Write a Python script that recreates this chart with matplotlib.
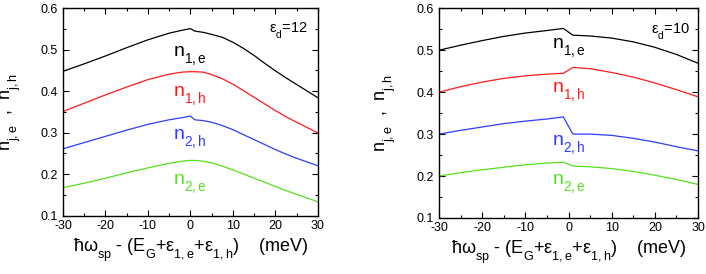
import matplotlib
matplotlib.use("Agg")
import matplotlib.pyplot as plt
from matplotlib.ticker import MultipleLocator

plt.rcParams['font.family'] = ['Liberation Sans', 'DejaVu Sans']
plt.rcParams['mathtext.fontset'] = 'custom'
plt.rcParams['mathtext.rm'] = 'Liberation Sans'
plt.rcParams['mathtext.it'] = 'Liberation Sans'
plt.rcParams['mathtext.bf'] = 'Liberation Sans:bold'
plt.rcParams['axes.unicode_minus'] = False

# subscripts in the original sit lower than mathtext puts them
try:
    import matplotlib._mathtext as mt

    class LowSubs(mt.FontConstantsBase):
        sub1 = 0.75
        subdrop = 0.6

    mt._font_constant_mapping['Liberation Sans'] = LowSubs
except Exception:
    pass

# eps_d = 12 (left panel)
x12 = [-30, -25, -20, -15, -10, -5, -2, 0, 1, 3, 5, 7.5, 10, 12.5, 15, 17.5, 20, 22.5, 25, 27.5, 30]
n1e_12 = [.448, .466, .485, .505, .524, .540, .547, .551, .545, .542, .537, .530, .518, .503, .486, .467, .449, .432, .416, .400, .384]
n1h_12 = [.351, .371, .391, .410, .428, .441, .446, .447, .447, .446, .440, .430, .417, .401, .385, .369, .353, .338, .325, .312, .299]
n2h_12 = [.261, .276, .291, .306, .320, .331, .336, .340, .331, .329, .325, .317, .307, .295, .283, .271, .259, .248, .238, .229, .220]
n2e_12 = [.167, .178, .190, .203, .215, .226, .231, .233, .233, .231, .227, .219, .210, .200, .190, .180, .170, .160, .151, .142, .133]

# eps_d = 10 (right panel)
x10 = [-30, -25, -20, -15, -10, -5, -1.2, 1, 5, 10, 15, 20, 25, 30]
n1e_10 = [.500, .512, .523, .533, .541, .547, .552, .536, .534, .529, .520, .507, .490, .469]
n1h_10 = [.400, .413, .424, .433, .439, .443, .445, .459, .456, .447, .436, .422, .406, .389]
n2h_10 = [.300, .309, .317, .325, .331, .336, .341, .300, .300, .297, .290, .281, .270, .260]
n2e_10 = [.200, .208, .215, .221, .227, .231, .233, .224, .222, .218, .211, .202, .192, .180]

labels = [r'$\mathregular{n_{1,e}}$', r'$\mathregular{n_{1,h}}$',
          r'$\mathregular{n_{2,h}}$', r'$\mathregular{n_{2,e}}$']
colors = ['black', '#ff1a1a', '#2e3cff', '#55e01e']

panels = [
    dict(x=x12, ys=[n1e_12, n1h_12, n2h_12, n2e_12], eps='12',
         rect=[0.0892, 0.2135, 0.3612, 0.7562],
         lab_x=-4.1, lab_y=[0.483, 0.386, 0.283, 0.174], eps_pos=(27.6, 0.548),
         ylab_x=-0.155),
    dict(x=x10, ys=[n1e_10, n1h_10, n2h_10, n2e_10], eps='10',
         rect=[0.6218, 0.2044, 0.3669, 0.7653],
         lab_x=-3.8, lab_y=[0.503, 0.400, 0.274, 0.179], eps_pos=(28.1, 0.547),
         ylab_x=-0.16),
]

fig = plt.figure(figsize=(7.06, 2.74), dpi=100)

for p in panels:
    ax = fig.add_axes(p['rect'])
    for y, c in zip(p['ys'], colors):
        ax.plot(p['x'], y, color=c, lw=0.9)
    for lab, ly, c in zip(labels, p['lab_y'], colors):
        ax.text(p['lab_x'], ly, lab, color=c, fontsize=14, va='baseline', ha='left')
    ax.text(p['eps_pos'][0], p['eps_pos'][1],
            r'$\mathregular{\varepsilon_d}$=' + p['eps'],
            fontsize=10.5, ha='right', va='center')
    ax.set_xlim(-30, 30)
    ax.set_ylim(0.1, 0.6)
    ax.xaxis.set_major_locator(MultipleLocator(10))
    ax.xaxis.set_minor_locator(MultipleLocator(5))
    ax.yaxis.set_major_locator(MultipleLocator(0.1))
    ax.yaxis.set_minor_locator(MultipleLocator(0.05))
    ax.tick_params(which='both', direction='in', top=True, right=True,
                   labelsize=9, width=0.8)
    ax.tick_params(axis='x', pad=3)
    ax.tick_params(axis='y', pad=4)
    ax.tick_params(which='major', length=4)
    ax.tick_params(which='minor', length=2)
    for s in ax.spines.values():
        s.set_linewidth(1.0)
    ax.set_xlabel(r'$\hbar\omega_{\mathregular{sp}}$ - (E$_{\mathregular{G}}$+$\varepsilon_{\mathregular{1,e}}$+$\varepsilon_{\mathregular{1,h}}$)    (meV)',
                  fontsize=13, labelpad=3)
    ax.set_ylabel(r'$\mathregular{n_{j,e}}$  ,  $\mathregular{n_{j,h}}$', fontsize=13)
    ax.yaxis.set_label_coords(p['ylab_x'], 0.5)

fig.savefig('out.png', dpi=100)
